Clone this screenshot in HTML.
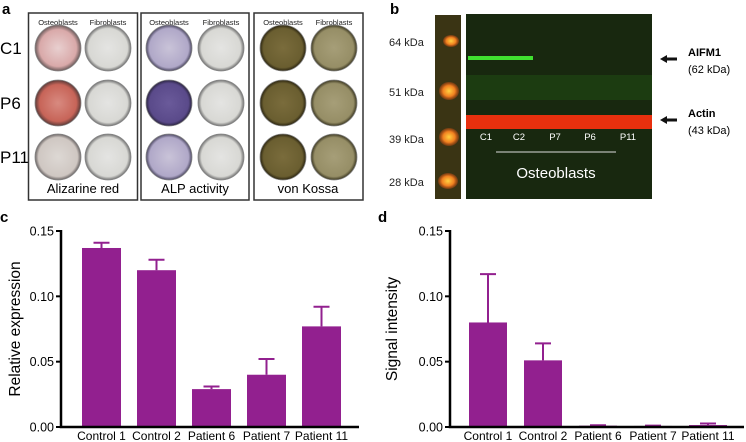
<!DOCTYPE html>
<html><head><meta charset="utf-8"><style>
html,body{margin:0;padding:0;background:#fff;}
body{width:746px;height:442px;overflow:hidden;position:relative;font-family:"Liberation Sans",sans-serif;}
</style></head><body>
<svg width="746" height="442" viewBox="0 0 746 442" xmlns="http://www.w3.org/2000/svg" style="position:absolute;left:0;top:0" font-family="Liberation Sans, sans-serif">
<defs>
<radialGradient id="gRed" cx="50%" cy="50%" r="50%"><stop offset="0" stop-color="#e8cfcf"/><stop offset="0.8" stop-color="#d9a9a9"/><stop offset="1" stop-color="#6a5a5a"/></radialGradient>
<radialGradient id="gRed2" cx="50%" cy="50%" r="50%"><stop offset="0" stop-color="#d88a80"/><stop offset="0.8" stop-color="#c76458"/><stop offset="1" stop-color="#5a3a38"/></radialGradient>
<radialGradient id="gWhite" cx="50%" cy="50%" r="50%"><stop offset="0" stop-color="#e4e4e2"/><stop offset="0.85" stop-color="#d8d8d4"/><stop offset="1" stop-color="#707070"/></radialGradient>
<radialGradient id="gPale" cx="50%" cy="50%" r="50%"><stop offset="0" stop-color="#ddd8d4"/><stop offset="0.85" stop-color="#cfc7c2"/><stop offset="1" stop-color="#6a6464"/></radialGradient>
<radialGradient id="gBlue" cx="50%" cy="50%" r="50%"><stop offset="0" stop-color="#c9c3d8"/><stop offset="0.85" stop-color="#b0a8c8"/><stop offset="1" stop-color="#4a4660"/></radialGradient>
<radialGradient id="gBlue2" cx="50%" cy="50%" r="50%"><stop offset="0" stop-color="#6a5a9a"/><stop offset="0.85" stop-color="#5a4a8a"/><stop offset="1" stop-color="#2a2440"/></radialGradient>
<radialGradient id="gOlive" cx="50%" cy="50%" r="50%"><stop offset="0" stop-color="#7a6c3c"/><stop offset="0.85" stop-color="#6a5e30"/><stop offset="1" stop-color="#2a2410"/></radialGradient>
<radialGradient id="gOlive2" cx="50%" cy="50%" r="50%"><stop offset="0" stop-color="#a69e78"/><stop offset="0.85" stop-color="#968e66"/><stop offset="1" stop-color="#3a3620"/></radialGradient>
<radialGradient id="gLad" cx="50%" cy="50%" r="50%"><stop offset="0" stop-color="#ffd040"/><stop offset="0.6" stop-color="#f08020"/><stop offset="1" stop-color="#e05010" stop-opacity="0.3"/></radialGradient>
</defs>

<!-- Panel a -->
<g>
<text x="2" y="14" font-size="15" font-weight="bold">a</text>
<text x="0" y="54" font-size="17">C1</text>
<text x="0" y="109" font-size="17">P6</text>
<text x="0" y="163" font-size="17">P11</text>
<g fill="none" stroke="#333" stroke-width="1.5">
<rect x="28.5" y="13" width="109" height="187"/>
<rect x="141" y="13" width="108" height="187"/>
<rect x="254" y="13" width="109" height="187"/>
</g>
<g font-size="7.5" text-anchor="middle" fill="#222">
<text x="58" y="25">Osteoblasts</text>
<text x="108" y="25">Fibroblasts</text>
<text x="169" y="25">Osteoblasts</text>
<text x="221" y="25">Fibroblasts</text>
<text x="283" y="25">Osteoblasts</text>
<text x="334" y="25">Fibroblasts</text>
</g>
<g stroke="#888" stroke-width="0.8">
<circle cx="58" cy="48" r="23" fill="url(#gRed)"/>
<circle cx="108" cy="48" r="23" fill="url(#gWhite)"/>
<circle cx="58" cy="103" r="23" fill="url(#gRed2)"/>
<circle cx="108" cy="103" r="23" fill="url(#gWhite)"/>
<circle cx="58" cy="157" r="23" fill="url(#gPale)"/>
<circle cx="108" cy="157" r="23" fill="url(#gWhite)"/>
<circle cx="169" cy="48" r="23" fill="url(#gBlue)"/>
<circle cx="221" cy="48" r="23" fill="url(#gWhite)"/>
<circle cx="169" cy="103" r="23" fill="url(#gBlue2)"/>
<circle cx="221" cy="103" r="23" fill="url(#gWhite)"/>
<circle cx="169" cy="157" r="23" fill="url(#gBlue)"/>
<circle cx="221" cy="157" r="23" fill="url(#gWhite)"/>
<circle cx="283" cy="48" r="23" fill="url(#gOlive)"/>
<circle cx="334" cy="48" r="23" fill="url(#gOlive2)"/>
<circle cx="283" cy="103" r="23" fill="url(#gOlive)"/>
<circle cx="334" cy="103" r="23" fill="url(#gOlive2)"/>
<circle cx="283" cy="157" r="23" fill="url(#gOlive)"/>
<circle cx="334" cy="157" r="23" fill="url(#gOlive2)"/>
</g>
<g font-size="13" text-anchor="middle">
<text x="83" y="193">Alizarine red</text>
<text x="195" y="193">ALP activity</text>
<text x="308" y="193">von Kossa</text>
</g>
</g>

<!-- Panel b -->
<g>
<text x="390" y="14" font-size="15" font-weight="bold">b</text>
<g font-size="11" fill="#222">
<text x="389" y="46">64 kDa</text>
<text x="389" y="96">51 kDa</text>
<text x="389" y="143">39 kDa</text>
<text x="389" y="186">28 kDa</text>
</g>
<rect x="435" y="15" width="26" height="184" fill="#3a3414"/>
<ellipse cx="451" cy="41" rx="8" ry="6" fill="url(#gLad)"/>
<ellipse cx="449" cy="91" rx="10" ry="9" fill="url(#gLad)"/>
<ellipse cx="449" cy="137" rx="10" ry="9" fill="url(#gLad)"/>
<ellipse cx="448" cy="181" rx="10" ry="8" fill="url(#gLad)"/>
<rect x="466" y="14" width="186" height="185" fill="#18280f"/>
<rect x="466" y="75" width="186" height="25" fill="#1f4a12" opacity="0.6"/>
<rect x="468" y="56" width="65" height="4" fill="#40e030"/>
<rect x="466" y="115" width="186" height="14" fill="#e8300e"/>
<g font-size="9.5" fill="#fff" text-anchor="middle">
<text x="486" y="140">C1</text>
<text x="519" y="140">C2</text>
<text x="555" y="140">P7</text>
<text x="590" y="140">P6</text>
<text x="628" y="140">P11</text>
</g>
<line x1="496" y1="152" x2="616" y2="152" stroke="#ddd" stroke-width="1"/>
<text x="556" y="178" font-size="15" fill="#fff" text-anchor="middle">Osteoblasts</text>
<path d="M660 59 L667 55 L667 57.5 L677 57.5 L677 60.5 L667 60.5 L667 63 Z" fill="#111"/>
<path d="M660 120 L667 116 L667 118.5 L677 118.5 L677 121.5 L667 121.5 L667 124 Z" fill="#111"/>
<text x="688" y="56" font-size="11" font-weight="bold">AIFM1</text>
<text x="688" y="73" font-size="11">(62 kDa)</text>
<text x="688" y="117" font-size="11" font-weight="bold">Actin</text>
<text x="688" y="134" font-size="11">(43 kDa)</text>
</g>

<g id="chartC"></g>
<g id="chartD"></g>
</svg>
<script>
const categories = ["Control 1","Control 2","Patient 6","Patient 7","Patient 11"];
const yTicks = [0, 0.05, 0.10, 0.15];
const yTickLabels = ["0.00","0.05","0.10","0.15"];
const cValues = [0.137, 0.120, 0.029, 0.040, 0.077];
const cErrors = [0.004, 0.008, 0.002, 0.012, 0.015];
const dValues = [0.080, 0.051, 0.001, 0.0008, 0.0015];
const dErrors = [0.037, 0.013, 0.0003, 0.0003, 0.0012];
const NS = "http://www.w3.org/2000/svg";
function mk(tag, attrs, parent){const e=document.createElementNS(NS,tag);for(const k in attrs)e.setAttribute(k,attrs[k]);parent.appendChild(e);return e;}
function drawChart(g, cfg, values, errors){
  const yScale = v => cfg.y0 - (v/0.15)*(cfg.y0-cfg.y1);
  const xScale = i => cfg.firstBar + i*cfg.step;
  const lbl = mk('text',{x:cfg.letterX,y:222,'font-size':15,'font-weight':'bold'},g); lbl.textContent=cfg.letter;
  
  
  const title = mk('text',{x:0,y:0,'font-size':15.5,'text-anchor':'middle',transform:`translate(${cfg.titleX},${(cfg.y0+cfg.y1)/2}) rotate(-90)`},g); title.textContent=cfg.title;
  
  
  values.forEach((v,i)=>{
    const x = xScale(i), top = yScale(v), et = yScale(v+errors[i]);
    const err = mk('path',{d:`M${x+cfg.bw/2} ${top} V${et} M${x+cfg.bw/2-8} ${et} H${x+cfg.bw/2+8}`,stroke:'#92208f','stroke-width':2,fill:'none'},g);
    
    
    const b = mk('rect',{x:x,y:top,width:cfg.bw,height:Math.max(cfg.y0-top,1),fill:'#92208f'},g);
    
    
    const t = mk('text',{x:x+cfg.bw/2,y:440,'font-size':12,'text-anchor':'middle'},g); t.textContent=categories[i];
    
    
  });
  const ax = mk('path',{d:`M${cfg.ax} ${cfg.y1-1} V${cfg.y0} H${cfg.xEnd}`,stroke:'#000','stroke-width':2.5,fill:'none'},g);
  
  
  yTicks.forEach((v,i)=>{
    const y=yScale(v);
    const tk = mk('line',{x1:cfg.ax-5,x2:cfg.ax,y1:y,y2:y,stroke:'#000','stroke-width':2},g);
    
    
    const tl = mk('text',{x:cfg.ax-7,y:y+4.5,'font-size':12.5,'text-anchor':'end'},g); tl.textContent=yTickLabels[i];
    
    
  });
}
drawChart(document.getElementById('chartC'),{letter:'c',letterX:0,title:'Relative expression',titleX:20,ax:61,y0:427,y1:231,xEnd:359,firstBar:82,step:55,bw:39},cValues,cErrors);
drawChart(document.getElementById('chartD'),{letter:'d',letterX:378,title:'Signal intensity',titleX:397,ax:450,y0:427,y1:231,xEnd:744,firstBar:469,step:55,bw:38},dValues,dErrors);
</script>
</body></html>
